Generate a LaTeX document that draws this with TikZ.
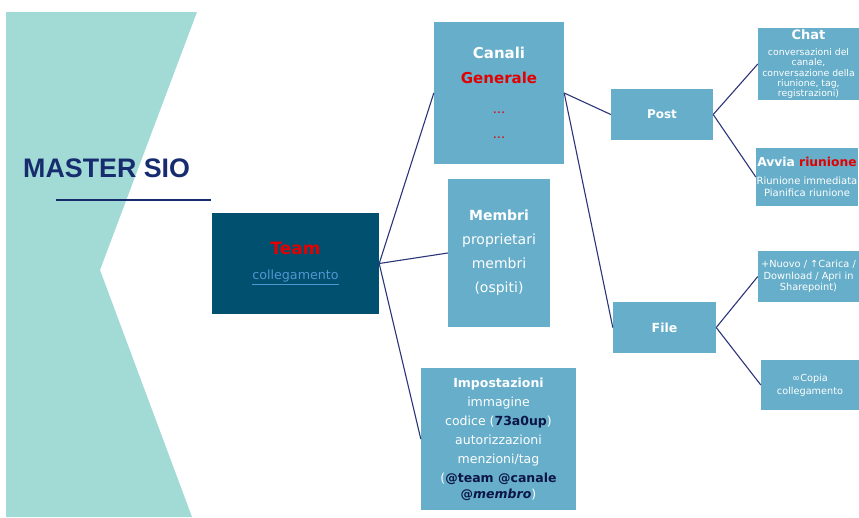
\documentclass[tikz,border=0pt]{standalone}
\usepackage{fontspec}
\setmainfont{DejaVu Sans}
\newfontfamily\titlefont{Liberation Sans}
\usepackage{tikz}
\usetikzlibrary{positioning}
\definecolor{sfondo}{RGB}{162,218,213}
\definecolor{cella}{RGB}{102,174,202}
\definecolor{teamblu}{RGB}{2,80,111}
\definecolor{linea}{RGB}{43,53,120}
\definecolor{titolo}{RGB}{22,44,110}
\definecolor{rosso}{RGB}{226,0,0}
\definecolor{linkblu}{RGB}{80,150,210}
\definecolor{scuro}{RGB}{12,22,70}
\tikzset{box/.style = {fill=cella, text=white, align=center, inner sep=0pt},
         link/.style = {draw=linea, line width=1.1pt}}

\begin{document}
\begin{tikzpicture}[x=1pt,y=-1pt]
        \useasboundingbox (0,0) rectangle (859,517);
        \fill[sfondo] (6,12) -- (197,12) -- (100,270) -- (192,517) -- (6,517) -- cycle;
        \node[anchor=base west, text=titolo, font=\titlefont\bfseries\fontsize{26.8}{30}\selectfont, inner sep=0pt] (master) at (23,177) {MASTER SIO};
        \draw[titolo, line width=2.5pt] (56,200) -- (211,200);

        \node[fill=teamblu, align=center, inner sep=0pt, minimum width=167pt, minimum height=101pt, font=\fontsize{17}{25}\selectfont] (team) at (295.5,263.5)
            {{\bfseries\color{rosso}Team}\\
             {\fontsize{12.7}{14}\selectfont\color{linkblu}\underline{collegamento}}};

        \node[box, minimum width=130pt, minimum height=142pt, font=\fontsize{15}{25}\selectfont] (canali) at (499,93)
            {\bfseries Canali\\
             {\bfseries\color{rosso}Generale}\\[5pt]
             {\fontsize{13}{13}\selectfont\color{rosso}...}\\
             {\fontsize{13}{13}\selectfont\color{rosso}...}};
        \node[box, minimum width=102pt, minimum height=148pt, font=\fontsize{14}{24}\selectfont] (membri) at (499,253)
            {\textbf{Membri}\\ proprietari\\ membri\\ (ospiti)};
        \node[box, minimum width=155pt, minimum height=142pt, font=\fontsize{12.5}{19}\selectfont] (impost) at (498.5,439)
            {\textbf{Impostazioni}\\ immagine\\ codice (\textbf{\color{scuro}73a0up})\\ autorizzazioni\\ menzioni/tag\\
             (\textbf{\color{scuro}@team @canale}\\[-3pt] \textbf{\color{scuro}@\textit{membro}})};

        \node[box, minimum width=102pt, minimum height=51pt, font=\fontsize{12}{14}\selectfont\bfseries] (post) at (662,114.5) {Post};
        \node[box, minimum width=103pt, minimum height=51pt, font=\fontsize{12.5}{14}\selectfont\bfseries] (file) at (664.5,327.5) {File};

        \node[box, minimum width=101pt, minimum height=72pt, font=\fontsize{9.3}{10.3}\selectfont] (chat) at (808.5,64)
            {{\fontsize{13}{14}\selectfont\bfseries Chat}\\[6pt] conversazioni del\\ canale,\\ conversazione della\\ riunione, tag,\\ registrazioni)};
        \node[box, minimum width=102pt, minimum height=58pt, font=\fontsize{10}{12}\selectfont] (avvia) at (807,177)
            {{\fontsize{12.3}{14}\selectfont\bfseries Avvia \color{rosso}riunione}\\[6pt] Riunione immediata\\ Pianifica riunione};
        \node[box, minimum width=101pt, minimum height=51pt, font=\fontsize{9.8}{11.5}\selectfont] (nuovo) at (808.5,276.5)
            {+Nuovo / ↑Carica /\\ Download / Apri in\\ Sharepoint)};
        \node[box, minimum width=98pt, minimum height=50pt, font=\fontsize{9.7}{13}\selectfont] (copia) at (810,385)
            {∞Copia\\ collegamento};

        \draw[link] (team.east) -- (canali.west);
        \draw[link] (team.east) -- (membri.west);
        \draw[link] (team.east) -- (impost.west);
        \draw[link] (canali.east) -- (post.west);
        \draw[link] (canali.east) -- (file.west);
        \draw[link] (post.east) -- (chat.west);
        \draw[link] (post.east) -- (avvia.west);
        \draw[link] (file.east) -- (nuovo.west);
        \draw[link] (file.east) -- (copia.west);
    \end{tikzpicture}
\end{document}
